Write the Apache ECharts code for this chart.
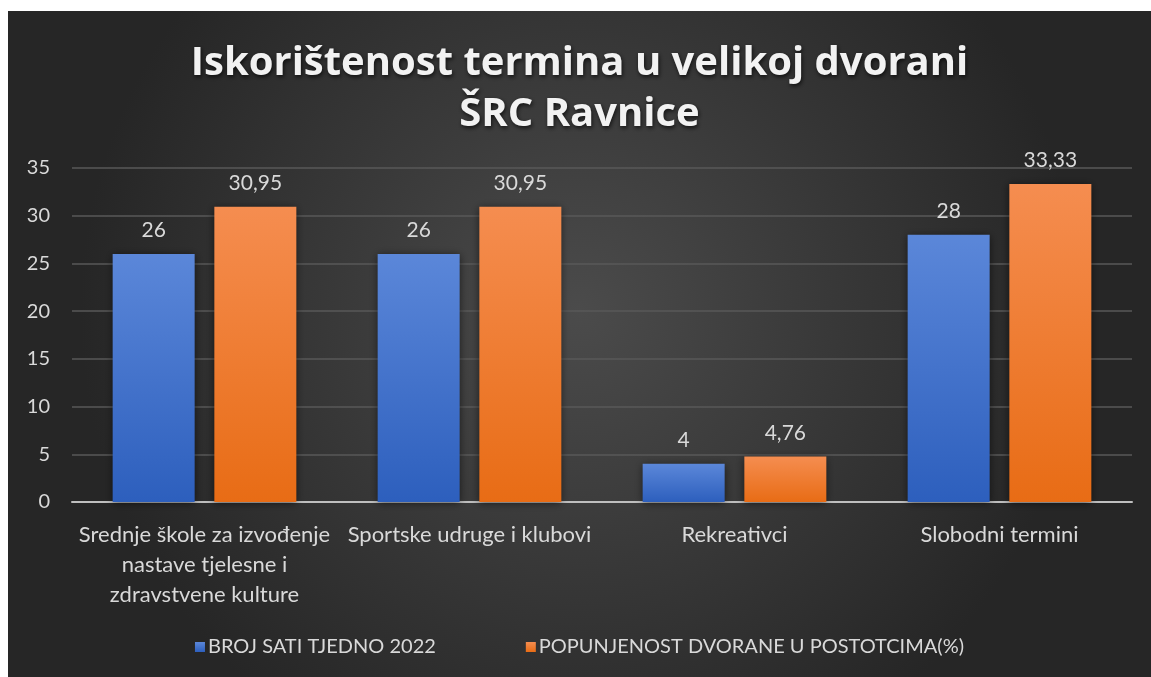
<!DOCTYPE html>
<html><head><meta charset="utf-8">
<script src="https://cdn.jsdelivr.net/npm/echarts@6/dist/echarts.min.js"></script>
<style>
html,body{margin:0;padding:0;background:#fff;width:1151px;height:677px;overflow:hidden}
#c{position:absolute;left:8px;top:11px;width:1143px;height:666px}
</style></head><body>
<div id="c"></div>
<script>
const titleLines = ['Iskorištenost termina u velikoj dvorani', 'ŠRC Ravnice'];
const categories = [
  'Srednje škole za izvođenje\nnastave tjelesne i\nzdravstvene kulture',
  'Sportske udruge i klubovi',
  'Rekreativci',
  'Slobodni termini'
];
const seriesNames = ['BROJ SATI TJEDNO 2022', 'POPUNJENOST DVORANE U POSTOTCIMA(%)'];
const hoursPerWeek = [26, 26, 4, 28];
const occupancyPct = [30.95, 30.95, 4.76, 33.33];
const yTicks = [0, 5, 10, 15, 20, 25, 30, 35];

const chart = echarts.init(document.getElementById('c'));
const txt = '#d9d9d9';
const font = 'Lato';
function grad(top, bottom){
  return new echarts.graphic.LinearGradient(0,0,0,1,[{offset:0,color:top},{offset:1,color:bottom}]);
}
const fmt = p => String(p.value).replace('.', ',');
chart.setOption({
  backgroundColor: new echarts.graphic.RadialGradient(0.5,0.45,0.75,[
    {offset:0,color:'#4b4b4b'},{offset:1,color:'#262626'}]),
  title: {
    text: titleLines.join('\n'),
    left: 'center', top: 22,
    textStyle: {
      color: '#f2f2f2', fontFamily: 'Open Sans', fontWeight: 'bold', fontSize: 40,
      lineHeight: 51,
      textShadowColor: 'rgba(0,0,0,0.7)', textShadowBlur: 4, textShadowOffsetX: 1, textShadowOffsetY: 2
    }
  },
  legend: {
    bottom: 15, left: 'center', itemWidth: 10, itemHeight: 10, itemGap: 90,
    icon: 'rect',
    textStyle: {color: txt, fontFamily: font, fontSize: 20, padding: [0,0,0,-2]},
    data: seriesNames
  },
  grid: {left: 64, right: 19, top: 157, height: 334, containLabel: false},
  xAxis: {
    type: 'category', data: categories,
    axisLine: {lineStyle: {color: '#bfbfbf', width: 2}},
    axisTick: {show: false},
    axisLabel: {color: txt, fontFamily: font, fontSize: 22, lineHeight: 30, margin: 18, interval: 0}
  },
  yAxis: {
    type: 'value', min: yTicks[0], max: yTicks[yTicks.length-1], interval: 5,
    axisLine: {show: false}, axisTick: {show: false},
    axisLabel: {color: txt, fontFamily: font, fontSize: 20, margin: 22},
    splitLine: {lineStyle: {color: '#585858', width: 1.5}}
  },
  series: [
    {
      name: seriesNames[0], type: 'bar', data: hoursPerWeek,
      barWidth: 82, barGap: '24%',
      itemStyle: {color: grad('#5b87d9', '#2d5fbd'), shadowColor: 'rgba(0,0,0,0.55)', shadowBlur: 8, shadowOffsetY: 1},
      label: {show: true, position: 'top', distance: 13, color: txt, fontFamily: font, fontSize: 21, formatter: fmt}
    },
    {
      name: seriesNames[1], type: 'bar', data: occupancyPct,
      barWidth: 82,
      itemStyle: {color: grad('#f58d50', '#e86c15'), shadowColor: 'rgba(0,0,0,0.55)', shadowBlur: 8, shadowOffsetY: 1},
      label: {show: true, position: 'top', distance: 13, color: txt, fontFamily: font, fontSize: 21, formatter: fmt}
    }
  ]
});
</script>
</body></html>
